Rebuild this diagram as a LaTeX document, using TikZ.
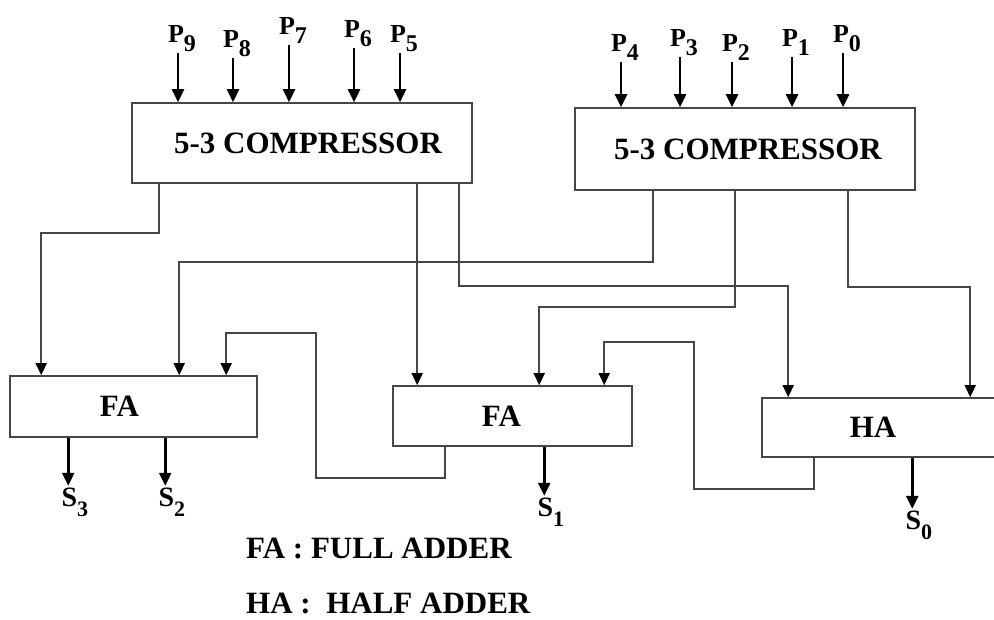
\documentclass[tikz,border=0pt]{standalone}
\usepackage{fontspec}
\setmainfont{Liberation Serif}
\usepackage{xcolor}
\usetikzlibrary{arrows.meta}
\definecolor{wiregray}{RGB}{70,70,70}
\newcommand{\sub}[3][24]{\raisebox{-#2}{\fontsize{#1}{#1}\selectfont #3}}

\begin{document}
\begin{tikzpicture}[x=1pt,y=-1pt,
    box/.style={draw=wiregray,line width=1.6pt,rectangle,inner sep=0pt,font=\fontsize{31}{32}\selectfont\bfseries},
    wire/.style={draw=wiregray,line width=1.6pt,-{Triangle[length=12pt,width=11pt,color=black]}},
    inarrow/.style={line width=2.6pt,-{Triangle[length=13pt,width=12pt]}},
    plab/.style={font=\fontsize{26}{26}\selectfont\bfseries,inner sep=1pt,anchor=south},
    slab/.style={font=\fontsize{28}{28}\selectfont\bfseries,inner sep=1pt,anchor=north west,xshift=-9pt},
    note/.style={font=\fontsize{31}{32}\selectfont\bfseries,inner sep=0pt,anchor=west}]
  \useasboundingbox (0,0) rectangle (994,619);

  % compressors
  \node[box,minimum width=340pt,minimum height=80pt] (c1) at (302,143) {\hspace*{12pt}5-3 COMPRESSOR};
  \node[box,minimum width=340pt,minimum height=82pt] (c2) at (745,149) {\hspace*{6pt}5-3 COMPRESSOR};

  % adders
  \node[box,minimum width=247pt,minimum height=61pt] (fa1) at (133.5,406.5) {FA\hspace*{28pt}};
  \node[box,minimum width=239pt,minimum height=60pt] (fa2) at (512.5,416) {FA\hspace*{22pt}};
  \node[box,minimum width=238pt,minimum height=59pt] (ha) at (881,427.5) {HA\hspace*{16pt}};

  % partial product inputs
  \foreach \n/\x/\y in {9/178/53, 8/233/58, 7/289/45, 6/354/48, 5/400/53} {
    \node[plab] (p\n) at (\x+4,\y) {P\sub{9pt}{\n}};
    \draw[inarrow] ([xshift=-4pt]p\n.south) -- ([xshift=-4pt]p\n.south |- c1.north);
  }
  \foreach \n/\x/\y in {4/621/62, 3/680/57, 2/732/62, 1/792/57, 0/843/53} {
    \node[plab] (p\n) at (\x+4,\y) {P\sub{9pt}{\n}};
    \draw[inarrow] ([xshift=-4pt]p\n.south) -- ([xshift=-4pt]p\n.south |- c2.north);
  }

  % wires from the compressors
  \draw[wire] ([xshift=28pt]c1.south west) -- ++(0,49) -| ([xshift=32pt]fa1.north west);
  \draw[wire] ([xshift=286pt]c1.south west) -- ([xshift=286pt]c1.south west |- fa2.north);
  \draw[wire] ([xshift=328pt]c1.south west) -- ++(0,102) -| ([xshift=27pt]ha.north west);
  \draw[wire] ([xshift=79pt]c2.south west) -- ++(0,71) -| ([xshift=170pt]fa1.north west);
  \draw[wire] ([xshift=161pt]c2.south west) -- ++(0,116) -| ([xshift=147pt]fa2.north west);
  \draw[wire] ([xshift=274pt]c2.south west) -- ++(0,96) -| ([xshift=209pt]ha.north west);

  % carries
  \draw[wire] ([xshift=53pt]fa2.south west) -- ++(0,31) -| (316,333) -| ([xshift=217pt]fa1.north west);
  \draw[wire] ([xshift=53pt]ha.south west) -- ++(0,31) -| (694,342) -| ([xshift=212pt]fa2.north west);

  % sum outputs
  \draw[inarrow] ([xshift=59pt]fa1.south west) -- ++(0,48) node[slab] (s3) {S\sub[22]{10pt}{3}};
  \draw[inarrow] ([xshift=156pt]fa1.south west) -- ++(0,48) node[slab] (s2) {S\sub[22]{10pt}{2}};
  \draw[inarrow] ([xshift=152pt]fa2.south west) -- ++(0,49) node[slab] (s1) {S\sub[22]{10pt}{1}};
  \draw[inarrow] ([xshift=151pt]ha.south west) -- ++(0,51) node[slab] (s0) {S\sub[22]{10pt}{0}};

  % legend
  \node[note] (fanote) at (246,548) {FA : FULL ADDER};
  \node[note] (hanote) at (246,603) {HA :\ \ HALF ADDER};
\end{tikzpicture}
\end{document}
